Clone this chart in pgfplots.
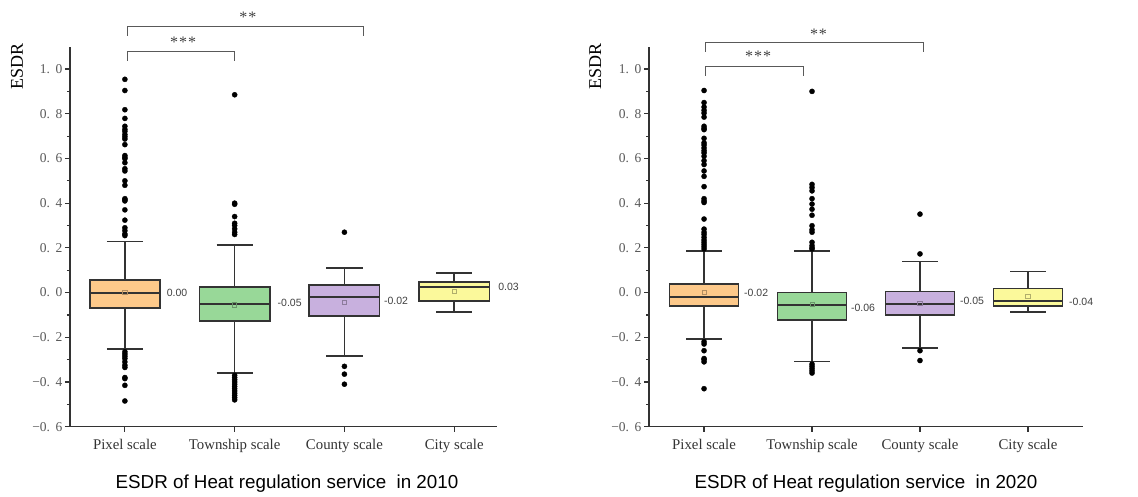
\documentclass[border=0pt]{standalone}
\usepackage{fontspec}
\setmainfont{Liberation Serif}
\newfontfamily\sansf{Liberation Sans}
\usepackage{pgfplots}
\pgfplotsset{compat=1.18}
\usepgfplotslibrary{statistics}
\definecolor{cPix}{HTML}{FDC98A}
\definecolor{cTow}{HTML}{98D898}
\definecolor{cCou}{HTML}{C8B0DE}
\definecolor{cCit}{HTML}{FBF99B}
\definecolor{axc}{HTML}{333333}
\def\tl#1#2{#1.\hspace{0.42em}#2}
\tikzset{
  vl/.style={anchor=west, inner sep=0pt, font=\sansf\fontsize{10.5}{11}\selectfont, text=black!75},
  st/.style={font=\fontsize{16}{16}\selectfont, text=black!75},
}
\pgfplotsset{
  base/.style={
    scale only axis, anchor=south west, clip=false,
    ymin=-0.6, ymax=1.1,
    axis x line*=bottom, axis y line*=left,
    axis line style={line width=1.5pt, color=axc},
    tick align=outside,
    major tick length=5pt, minor tick length=3pt,
    tick style={line width=1.2pt, color=axc},
    xtick={0,1,2,3},
    xticklabels={Pixel scale, Township scale, County scale, City scale},
    xticklabel style={font=\fontsize{14.8}{16}\selectfont, text=black!80, yshift=-4pt},
    ytick={-0.6,-0.4,-0.2,0,0.2,0.4,0.6,0.8,1.0},
    yticklabels={−\tl{0}{6},−\tl{0}{4},−\tl{0}{2},\tl{0}{0},\tl{0}{2},\tl{0}{4},\tl{0}{6},\tl{0}{8},\tl{1}{0}},
    minor ytick={-0.5,-0.3,-0.1,0.1,0.3,0.5,0.7,0.9},
    yticklabel style={font=\fontsize{13.5}{14}\selectfont, text=black!65, xshift=1pt},
    ylabel={ESDR},
    ylabel style={font=\fontsize{18}{20}\selectfont, anchor=center},
  },
  bx/.style={
    boxplot/draw direction=y,
    boxplot/box extend=0.64,
    boxplot/whisker extend=0.33,
    boxplot/every box/.style={draw=axc, line width=1.6pt, fill=#1},
    boxplot/every whisker/.style={draw=axc, line width=1.6pt},
    boxplot/every median/.style={draw=axc, line width=2pt},
    draw=axc, line width=1.6pt, mark=*, mark size=2.6pt,
    mark options={fill=black, draw=black, solid, line width=0.3pt},
  },
  mn/.style={only marks, mark=square, mark size=2.1pt, mark options={draw=#1, line width=0.8pt, fill=none}},
  br/.style={sharp plot, no marks, draw=black!65, line width=1.1pt},
}
\begin{document}
\begin{tikzpicture}
\useasboundingbox (0,0) rectangle (1138pt,497pt);
% ---------------- 2010 ----------------
\begin{axis}[base, at={(70pt,70.3pt)}, width=427pt, height=380pt, xmin=-0.5, xmax=3.39,
  ylabel style={at={(axis description cs:-0.124,0.947)}}]
\addplot[bx=cPix, boxplot prepared={median=0.0, upper quartile=0.057, lower quartile=-0.07, upper whisker=0.228, lower whisker=-0.252, draw position=0}]
 table[row sep=\\, y index=0]{0.954\\0.904\\0.818\\0.779\\0.744\\0.73\\0.721\\0.707\\0.697\\0.687\\0.662\\0.613\\0.605\\0.599\\0.581\\0.554\\0.544\\0.50\\0.48\\0.42\\0.415\\0.41\\0.37\\0.324\\0.29\\0.277\\0.262\\0.255\\-0.265\\-0.275\\-0.285\\-0.295\\-0.31\\-0.325\\-0.335\\-0.38\\-0.385\\-0.415\\-0.485\\};
\addplot[bx=cTow, boxplot prepared={median=-0.052, upper quartile=0.024, lower quartile=-0.128, upper whisker=0.213, lower whisker=-0.361, draw position=1}]
 table[row sep=\\, y index=0]{0.885\\0.40\\0.395\\0.34\\0.31\\0.30\\0.285\\0.27\\0.26\\-0.37\\-0.38\\-0.39\\-0.40\\-0.41\\-0.42\\-0.43\\-0.44\\-0.45\\-0.46\\-0.47\\-0.48\\};
\addplot[bx=cCou, boxplot prepared={median=-0.021, upper quartile=0.034, lower quartile=-0.106, upper whisker=0.109, lower whisker=-0.284, draw position=2}]
 table[row sep=\\, y index=0]{0.27\\-0.33\\-0.365\\-0.41\\};
\addplot[bx=cCit, boxplot prepared={median=0.027, upper quartile=0.048, lower quartile=-0.039, upper whisker=0.088, lower whisker=-0.088, draw position=3}]
 coordinates {};
\addplot[mn=cPix!70!black] coordinates {(0,0.0)};
\addplot[mn=cTow!70!black] coordinates {(1,-0.055)};
\addplot[mn=cCou!70!black] coordinates {(2,-0.043)};
\addplot[mn=cCit!70!black] coordinates {(3,0.007)};
\node[vl] at (axis cs:0.38,0.0) {0.00};
\node[vl] at (axis cs:1.39,-0.047) {-0.05};
\node[vl] at (axis cs:2.36,-0.037) {-0.02};
\node[vl] at (axis cs:3.40,0.027) {0.03};
\addplot[br] coordinates {(0.02,1.036)(0.02,1.077)(1.0,1.077)(1.0,1.036)};
\addplot[br] coordinates {(0.02,1.149)(0.02,1.19)(2.17,1.19)(2.17,1.149)};
\node[st] at (axis cs:0.53,1.12) {*\kern1pt*\kern1pt*};
\node[st] at (axis cs:1.12,1.23) {*\kern1pt*};
\end{axis}
\node[font=\sansf\fontsize{18.8}{20}\selectfont, anchor=base] at (287pt,8pt) {ESDR of Heat regulation service\ \ in 2010};
% ---------------- 2020 ----------------
\begin{axis}[base, at={(649pt,70.3pt)}, width=434pt, height=380pt, xmin=-0.51, xmax=3.51,
  ylabel style={at={(axis description cs:-0.124,0.947)}}]
\addplot[bx=cPix, boxplot prepared={median=-0.018, upper quartile=0.039, lower quartile=-0.061, upper whisker=0.185, lower whisker=-0.207, draw position=0}]
 table[row sep=\\, y index=0]{0.904\\0.85\\0.83\\0.815\\0.803\\0.785\\0.744\\0.735\\0.729\\0.69\\0.67\\0.66\\0.647\\0.635\\0.625\\0.61\\0.59\\0.573\\0.544\\0.52\\0.474\\0.42\\0.41\\0.403\\0.329\\0.284\\0.27\\0.26\\0.247\\0.235\\0.225\\0.215\\0.205\\0.195\\-0.22\\-0.23\\-0.26\\-0.295\\-0.30\\-0.31\\-0.43\\};
\addplot[bx=cTow, boxplot prepared={median=-0.055, upper quartile=0.0, lower quartile=-0.124, upper whisker=0.185, lower whisker=-0.309, draw position=1}]
 table[row sep=\\, y index=0]{0.90\\0.484\\0.47\\0.455\\0.42\\0.396\\0.373\\0.346\\0.299\\0.281\\0.27\\0.225\\0.21\\0.20\\0.195\\-0.32\\-0.33\\-0.34\\-0.35\\-0.36\\};
\addplot[bx=cCou, boxplot prepared={median=-0.049, upper quartile=0.004, lower quartile=-0.1, upper whisker=0.139, lower whisker=-0.249, draw position=2}]
 table[row sep=\\, y index=0]{0.351\\0.173\\-0.26\\-0.304\\};
\addplot[bx=cCit, boxplot prepared={median=-0.037, upper quartile=0.019, lower quartile=-0.061, upper whisker=0.094, lower whisker=-0.088, draw position=3}]
 coordinates {};
\addplot[mn=cPix!70!black] coordinates {(0,0.0)};
\addplot[mn=cTow!70!black] coordinates {(1,-0.052)};
\addplot[mn=cCou!70!black] coordinates {(2,-0.05)};
\addplot[mn=cCit!70!black] coordinates {(3,-0.018)};
\node[vl] at (axis cs:0.37,-0.003) {-0.02};
\node[vl] at (axis cs:1.36,-0.067) {-0.06};
\node[vl] at (axis cs:2.37,-0.037) {-0.05};
\node[vl] at (axis cs:3.38,-0.04) {-0.04};
\addplot[br] coordinates {(0.01,0.969)(0.01,1.013)(0.92,1.013)(0.92,0.969)};
\addplot[br] coordinates {(0.01,1.077)(0.01,1.118)(2.03,1.118)(2.03,1.077)};
\node[st] at (axis cs:0.5,1.055) {*\kern1pt*\kern1pt*};
\node[st] at (axis cs:1.06,1.155) {*\kern1pt*};
\end{axis}
\node[font=\sansf\fontsize{18.8}{20}\selectfont, anchor=base] at (866pt,8pt) {ESDR of Heat regulation service\ \ in 2020};
\end{tikzpicture}
\end{document}
